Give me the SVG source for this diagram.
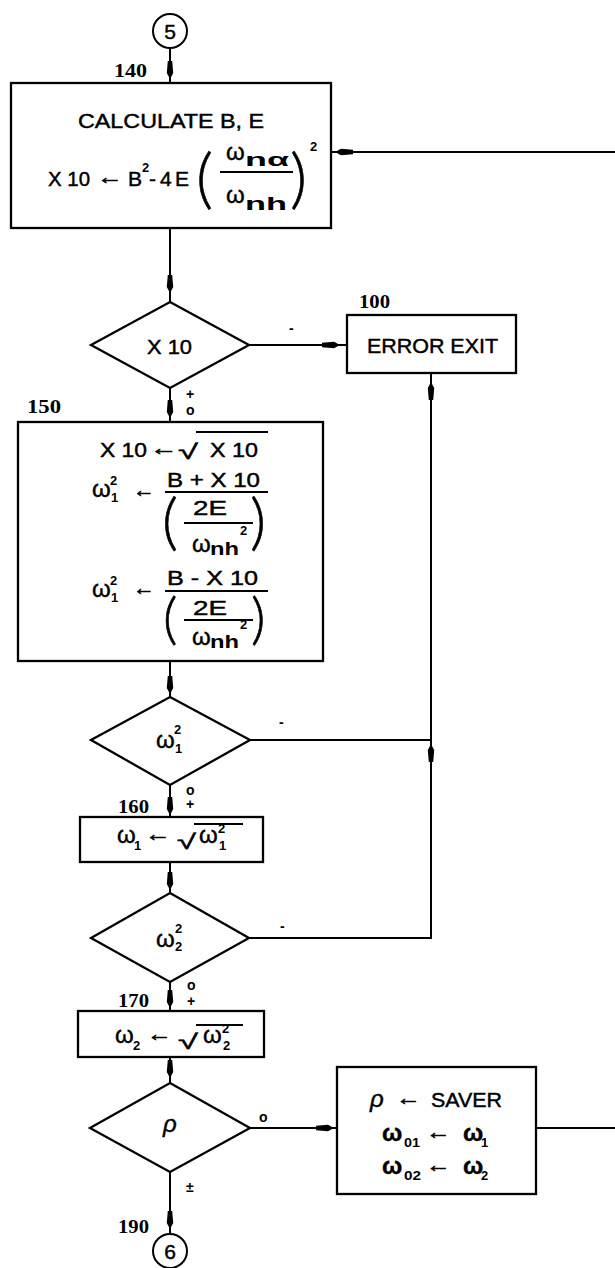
<svg xmlns="http://www.w3.org/2000/svg" width="615" height="1268" viewBox="0 0 615 1268">
<style>
.ln{stroke:#000;stroke-width:2;fill:none}
.bx{fill:#fff;stroke:#000;stroke-width:2.3}
.t{font-family:"Liberation Sans",Arial,sans-serif;font-size:21px;fill:#000;stroke:#000;stroke-width:0.45}
.w{font-family:"Liberation Sans",Arial,sans-serif;font-size:24px;fill:#000;stroke:#000;stroke-width:0.4}
.sm{font-family:"Liberation Sans",Arial,sans-serif;font-size:13px;font-weight:bold;fill:#000}
.sb{font-family:"Liberation Sans",Arial,sans-serif;font-size:18px;font-weight:bold;fill:#000}
.n{font-family:"Liberation Serif","Times New Roman",serif;font-size:19px;font-weight:bold;fill:#000}
.p{font-family:Lato,"DejaVu Sans",sans-serif;font-weight:300;fill:#000;stroke:#000;stroke-width:0.6}
.lb{font-family:"Liberation Sans",Arial,sans-serif;font-size:14px;font-weight:bold;fill:#000}
</style>
<defs>
<path id="ah" d="M0,0 L-6,-3.2 L-18,-2.2 L-18,2.2 L-6,3.2 Z" fill="#000"/>
</defs>

<g id="connectors">
<line class="ln" x1="170" y1="48" x2="170" y2="83"/>
<line class="ln" x1="331" y1="152" x2="615" y2="152"/>
<line class="ln" x1="170" y1="228" x2="170" y2="302"/>
<line class="ln" x1="249" y1="345" x2="347" y2="345"/>
<line class="ln" x1="170" y1="388" x2="170" y2="422"/>
<polyline class="ln" points="249,938 431,938 431,373"/>
<line class="ln" x1="250" y1="740" x2="431" y2="740"/>
<line class="ln" x1="170" y1="661" x2="170" y2="697"/>
<line class="ln" x1="170" y1="785" x2="170" y2="817"/>
<line class="ln" x1="170" y1="862" x2="170" y2="893"/>
<line class="ln" x1="170" y1="982" x2="170" y2="1011"/>
<line class="ln" x1="170" y1="1057" x2="170" y2="1083"/>
<line class="ln" x1="250" y1="1128" x2="337" y2="1128"/>
<line class="ln" x1="536" y1="1128" x2="615" y2="1128"/>
<line class="ln" x1="170" y1="1172" x2="170" y2="1234"/>
<use href="#ah" transform="translate(170,79) rotate(90)"/>
<use href="#ah" transform="translate(335,152) rotate(180)"/>
<use href="#ah" transform="translate(170,293) rotate(90)"/>
<use href="#ah" transform="translate(340,345)"/>
<use href="#ah" transform="translate(170,418) rotate(90)"/>
<use href="#ah" transform="translate(431,382) rotate(-90)"/>
<use href="#ah" transform="translate(170,694) rotate(90)"/>
<use href="#ah" transform="translate(431,744) rotate(-90)"/>
<use href="#ah" transform="translate(170,815) rotate(90)"/>
<use href="#ah" transform="translate(170,890) rotate(90)"/>
<use href="#ah" transform="translate(170,1008) rotate(90)"/>
<use href="#ah" transform="translate(170,1078) rotate(90)"/>
<use href="#ah" transform="translate(334,1128)"/>
<use href="#ah" transform="translate(170,1229) rotate(90)"/>
<text class="lb" x="289" y="333">-</text>
<text class="lb" x="279" y="727">-</text>
<text class="lb" x="280" y="931">-</text>
<text class="lb"><tspan x="186" y="399">+</tspan><tspan x="186" y="415">o</tspan></text>
<text class="lb"><tspan x="186" y="795">o</tspan><tspan x="186" y="809">+</tspan></text>
<text class="lb" font-size="13"><tspan x="187" y="990">o</tspan><tspan x="187" y="1006">+</tspan></text>
<text class="lb" x="186" y="1192">±</text>
<text class="lb" x="259" y="1122">o</text>
</g>

<g id="c5">
<circle cx="170" cy="31" r="17" fill="#fff" stroke="#000" stroke-width="2"/>
<text class="t" x="170" y="39" text-anchor="middle">5</text>
</g>

<g id="n140">
<text class="n" x="114" y="77" textLength="33" lengthAdjust="spacingAndGlyphs">140</text>
<rect class="bx" x="11" y="83" width="320" height="145"/>
<text class="t" x="78" y="128" font-size="22" textLength="186" lengthAdjust="spacingAndGlyphs">CALCULATE  B, E</text>
<text class="t" x="48" y="186" textLength="42" lengthAdjust="spacingAndGlyphs">X 10</text>
<text class="t" x="97" y="184" textLength="26" lengthAdjust="spacingAndGlyphs">←</text>
<text class="t" x="128" y="186">B</text>
<text class="sm" x="142" y="172">2</text>
<text class="t" x="149" y="186">-</text>
<text class="t" x="160" y="186">4</text>
<text class="t" x="175" y="186">E</text>
<text class="w" x="226" y="160">ω</text>
<text class="sb" x="245" y="166" textLength="44" lengthAdjust="spacingAndGlyphs">nα</text>
<line class="ln" x1="220" y1="172" x2="293" y2="172"/>
<text class="w" x="226" y="203">ω</text>
<text class="sb" x="245" y="210" textLength="42" lengthAdjust="spacingAndGlyphs">nh</text>
<text class="p" font-size="66"><tspan x="196" y="201">(</tspan><tspan x="290" y="201">)</tspan><tspan class="sm" font-size="13" font-family="Liberation Sans, Arial, sans-serif" font-weight="bold" stroke-width="0" x="310" y="151">2</tspan></text>
</g>

<g id="d_x10">
<polygon class="bx" points="170,302 249,345 170,388 91,345"/>
<text class="t" x="147" y="354" font-size="22" textLength="45" lengthAdjust="spacingAndGlyphs">X 10</text>
</g>

<g id="n100">
<text class="n" x="359" y="308" textLength="31" lengthAdjust="spacingAndGlyphs">100</text>
<rect class="bx" x="347" y="315" width="169" height="58"/>
<text class="t" x="367" y="353" font-size="22" textLength="131" lengthAdjust="spacingAndGlyphs">ERROR EXIT</text>
</g>

<g id="n150">
<text class="n" x="27" y="413" textLength="34" lengthAdjust="spacingAndGlyphs">150</text>
<rect class="bx" x="18" y="422" width="305" height="239"/>
<text class="t" x="100" y="457" textLength="47" lengthAdjust="spacingAndGlyphs">X 10</text>
<text class="t" x="150" y="455" textLength="28" lengthAdjust="spacingAndGlyphs">←</text>
<text class="t" x="178" y="459" font-size="26" textLength="20" lengthAdjust="spacingAndGlyphs">√</text>
<line class="ln" x1="196" y1="432" x2="268" y2="432"/>
<text class="t" x="210" y="457" textLength="48" lengthAdjust="spacingAndGlyphs">X 10</text>

<text class="w" x="92" y="497">ω</text>
<text class="sm" x="110" y="485">2</text>
<text class="sm" x="111" y="502">1</text>
<text class="t" x="133" y="497" textLength="22" lengthAdjust="spacingAndGlyphs">←</text>
<text class="t" x="167" y="487" textLength="93" lengthAdjust="spacingAndGlyphs">B + X 10</text>
<line class="ln" x1="165" y1="492" x2="268" y2="492"/>
<text class="t" x="193" y="515" textLength="34" lengthAdjust="spacingAndGlyphs">2E</text>
<line class="ln" x1="184" y1="523" x2="253" y2="523"/>
<text class="w" x="192" y="552">ω</text>
<text class="sb" x="210" y="555" textLength="29" lengthAdjust="spacingAndGlyphs">nh</text>
<text class="sm" x="240" y="535">2</text>
<text class="p" font-size="62"><tspan x="162" y="543">(</tspan><tspan x="250" y="543">)</tspan></text>

<text class="w" x="92" y="597">ω</text>
<text class="sm" x="110" y="585">2</text>
<text class="sm" x="111" y="602">1</text>
<text class="t" x="133" y="595" textLength="22" lengthAdjust="spacingAndGlyphs">←</text>
<text class="t" x="167" y="585" textLength="91" lengthAdjust="spacingAndGlyphs">B - X 10</text>
<line class="ln" x1="165" y1="591" x2="268" y2="591"/>
<text class="t" x="193" y="615" textLength="34" lengthAdjust="spacingAndGlyphs">2E</text>
<line class="ln" x1="184" y1="620" x2="253" y2="620"/>
<text class="w" x="192" y="645">ω</text>
<text class="sb" x="210" y="648" textLength="29" lengthAdjust="spacingAndGlyphs">nh</text>
<text class="sm" x="240" y="629">2</text>
<text class="p" font-size="56"><tspan x="163" y="638">(</tspan><tspan x="251" y="638">)</tspan></text>
</g>

<g id="d_w1">
<polygon class="bx" points="170,697 250,740 170,785 91,740"/>
<text class="w" x="156" y="748">ω</text>
<text class="sm" x="174" y="734">2</text>
<text class="sm" x="175" y="753">1</text>
</g>

<g id="n160">
<text class="n" x="118" y="813" textLength="31" lengthAdjust="spacingAndGlyphs">160</text>
<rect class="bx" x="80" y="817" width="183" height="45"/>
<text class="w" x="117" y="843">ω</text>
<text class="sm" x="134" y="850">1</text>
<text class="t" x="145" y="841" textLength="26" lengthAdjust="spacingAndGlyphs">←</text>
<text class="t" x="177" y="849" font-size="28" textLength="19" lengthAdjust="spacingAndGlyphs">√</text>
<line class="ln" x1="194" y1="824" x2="243" y2="824"/>
<text class="w" x="199" y="843">ω</text>
<text class="sm" x="218" y="833">2</text>
<text class="sm" x="219" y="850">1</text>
</g>

<g id="d_w2">
<polygon class="bx" points="170,893 249,938 170,982 91,938"/>
<text class="w" x="156" y="947">ω</text>
<text class="sm" x="175" y="933">2</text>
<text class="sm" x="175" y="951">2</text>
</g>

<g id="n170">
<text class="n" x="118" y="1007" textLength="31" lengthAdjust="spacingAndGlyphs">170</text>
<rect class="bx" x="78" y="1011" width="186" height="46"/>
<text class="w" x="115" y="1043">ω</text>
<text class="sm" x="133" y="1050">2</text>
<text class="t" x="147" y="1041" textLength="25" lengthAdjust="spacingAndGlyphs">←</text>
<text class="t" x="178" y="1049" font-size="28" textLength="20" lengthAdjust="spacingAndGlyphs">√</text>
<line class="ln" x1="196" y1="1025" x2="243" y2="1025"/>
<text class="w" x="203" y="1043">ω</text>
<text class="sm" x="222" y="1033">2</text>
<text class="sm" x="223" y="1050">2</text>
</g>

<g id="d_rho">
<polygon class="bx" points="170,1083 250,1128 170,1172 90,1128"/>
<text class="w" x="163" y="1132" font-style="italic">ρ</text>
</g>

<g id="saver">
<rect class="bx" x="337" y="1067" width="199" height="127"/>
<text class="w" x="370" y="1107" font-style="italic">ρ</text>
<text class="t" x="396" y="1105" textLength="25" lengthAdjust="spacingAndGlyphs">←</text>
<text class="t" x="431" y="1107" font-size="22" textLength="71" lengthAdjust="spacingAndGlyphs">SAVER</text>
<text class="w" x="382" y="1141" font-weight="bold">ω</text>
<text class="sm" x="404" y="1147" textLength="16" lengthAdjust="spacingAndGlyphs">01</text>
<text class="t" x="426" y="1139" textLength="25" lengthAdjust="spacingAndGlyphs" font-weight="bold">←</text>
<text class="w" x="463" y="1141" font-weight="bold">ω</text>
<text class="sm" x="481" y="1147">1</text>
<text class="w" x="382" y="1174" font-weight="bold">ω</text>
<text class="sm" x="404" y="1180" textLength="17" lengthAdjust="spacingAndGlyphs">02</text>
<text class="t" x="426" y="1172" textLength="25" lengthAdjust="spacingAndGlyphs" font-weight="bold">←</text>
<text class="w" x="463" y="1174" font-weight="bold">ω</text>
<text class="sm" x="481" y="1180">2</text>
</g>

<g id="c6">
<text class="n" x="118" y="1233" textLength="31" lengthAdjust="spacingAndGlyphs">190</text>
<circle cx="170" cy="1251" r="17" fill="#fff" stroke="#000" stroke-width="2"/>
<text class="t" x="170" y="1259" text-anchor="middle">6</text>
</g>
</svg>
